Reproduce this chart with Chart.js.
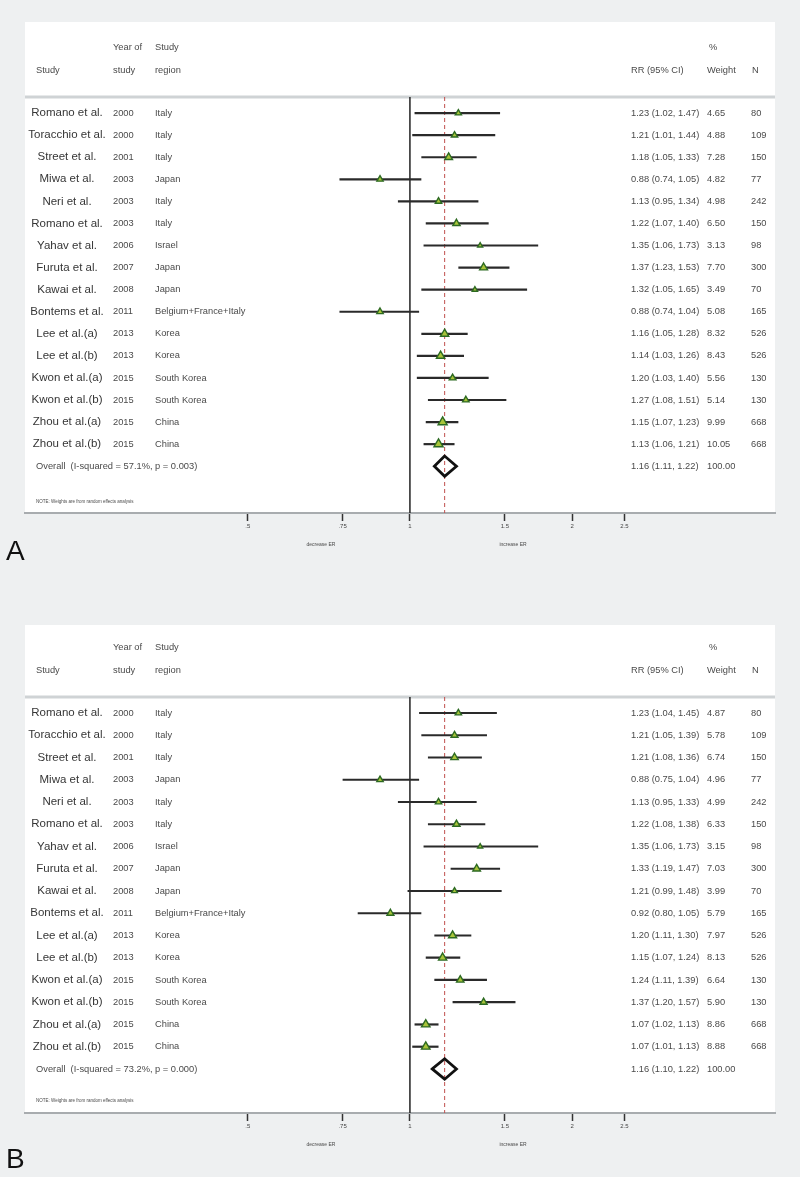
<!DOCTYPE html>
<html>
<head>
<meta charset="utf-8">
<script src="https://cdn.jsdelivr.net/npm/chart.js@4.4.1/dist/chart.umd.min.js"></script>
<style>
  html, body { margin: 0; padding: 0; background: #eef0f1; }
  #wrap { position: relative; width: 800px; height: 1177px; }
  .panel { position: absolute; left: 0; width: 800px; }
</style>
</head>
<body>
<div id="wrap">
  <div class="panel" style="top:0;height:600px"><canvas id="chartA"></canvas></div>
  <div class="panel" style="top:600px;height:577px"><canvas id="chartB"></canvas></div>
</div>
<script>
// studies (same list in both panels)
var studies = ["Romano et al.", "Toracchio et al.", "Street et al.", "Miwa et al.", "Neri et al.", "Romano et al.",
    "Yahav et al.", "Furuta et al.", "Kawai et al.", "Bontems et al.", "Lee et al.(a)", "Lee et al.(b)",
    "Kwon et al.(a)", "Kwon et al.(b)", "Zhou et al.(a)", "Zhou et al.(b)"];
var years = ["2000", "2000", "2001", "2003", "2003", "2003", "2006", "2007", "2008", "2011", "2013", "2013", "2015", "2015", "2015", "2015"];
var regions = ["Italy", "Italy", "Italy", "Japan", "Italy", "Italy", "Israel", "Japan", "Japan", "Belgium+France+Italy",
    "Korea", "Korea", "South Korea", "South Korea", "China", "China"];
var sampleN = [80, 109, 150, 77, 242, 150, 98, 300, 70, 165, 526, 526, 130, 130, 668, 668];

// panel A
var rrA = [1.23, 1.21, 1.18, 0.88, 1.13, 1.22, 1.35, 1.37, 1.32, 0.88, 1.16, 1.14, 1.20, 1.27, 1.15, 1.13];
var lowA = [1.02, 1.01, 1.05, 0.74, 0.95, 1.07, 1.06, 1.23, 1.05, 0.74, 1.05, 1.03, 1.03, 1.08, 1.07, 1.06];
var highA = [1.47, 1.44, 1.33, 1.05, 1.34, 1.40, 1.73, 1.53, 1.65, 1.04, 1.28, 1.26, 1.40, 1.51, 1.23, 1.21];
var weightA = [4.65, 4.88, 7.28, 4.82, 4.98, 6.50, 3.13, 7.70, 3.49, 5.08, 8.32, 8.43, 5.56, 5.14, 9.99, 10.05];
var overallA = [1.16, 1.11, 1.22];
var overallTextA = "Overall  (I-squared = 57.1%, p = 0.003)";

// panel B
var rrB = [1.23, 1.21, 1.21, 0.88, 1.13, 1.22, 1.35, 1.33, 1.21, 0.92, 1.20, 1.15, 1.24, 1.37, 1.07, 1.07];
var lowB = [1.04, 1.05, 1.08, 0.75, 0.95, 1.08, 1.06, 1.19, 0.99, 0.80, 1.11, 1.07, 1.11, 1.20, 1.02, 1.01];
var highB = [1.45, 1.39, 1.36, 1.04, 1.33, 1.38, 1.73, 1.47, 1.48, 1.05, 1.30, 1.24, 1.39, 1.57, 1.13, 1.13];
var weightB = [4.87, 5.78, 6.74, 4.96, 4.99, 6.33, 3.15, 7.03, 3.99, 5.79, 7.97, 8.13, 6.64, 5.90, 8.86, 8.88];
var overallB = [1.16, 1.10, 1.22];
var overallTextB = "Overall  (I-squared = 73.2%, p = 0.000)";

// x axis
var tickValues = [0.5, 0.75, 1, 1.5, 2, 2.5];
var tickLabels = [".5", ".75", "1", "1.5", "2", "2.5"];

var FONT = '"Liberation Sans", Arial, sans-serif';
var SMALL = '9.3px ' + FONT;

function ciText(rr, lo, hi) {
    return rr.toFixed(2) + " (" + lo.toFixed(2) + ", " + hi.toFixed(2) + ")";
}

/**
 * one forest plot panel
 */
function forestChart(canvasId, p) {
    var datasets = [];
    var row = studies.length;

    // confidence interval lines
    for (var i = 0; i < studies.length; i++) {
        datasets.push({
            data: [{x: p.low[i], y: i}, {x: p.high[i], y: i}],
            showLine: true,
            borderColor: '#2a2a2a',
            borderWidth: 2.2,
            pointRadius: 0,
            order: 2
        });
    }
    // point estimates, size by weight
    datasets.push({
        data: p.rr.map(function (v, i) { return {x: v, y: i}; }),
        pointStyle: 'triangle',
        pointRadius: p.weight.map(function (w) { return 1.65 * Math.sqrt(w); }),
        backgroundColor: '#a9c43a',
        borderColor: '#2d6a22',
        borderWidth: 1.4,
        order: 0
    });
    // overall diamond
    var o = p.overall;
    datasets.push({
        data: [{x: o[1], y: row}, {x: o[0], y: row - 0.46}, {x: o[2], y: row}, {x: o[0], y: row + 0.46},
            {x: o[1], y: row}, {x: o[0], y: row - 0.46}],
        showLine: true,
        borderColor: '#111',
        borderWidth: 2.8,
        borderJoinStyle: 'miter',
        pointRadius: 0,
        order: 1
    });

    var decor = {
        id: 'decor',
        beforeDraw: function (chart) {
            var ctx = chart.ctx, area = chart.chartArea;
            ctx.save();
            // white panel
            ctx.fillStyle = '#fff';
            ctx.fillRect(25, p.boxTop, 750, area.bottom - p.boxTop);
            // header separator
            ctx.strokeStyle = '#cfd3d5';
            ctx.lineWidth = 3;
            ctx.beginPath();
            ctx.moveTo(25, area.top);
            ctx.lineTo(775, area.top);
            ctx.stroke();
            ctx.restore();
        },
        beforeDatasetsDraw: function (chart) {
            var ctx = chart.ctx, area = chart.chartArea, x = chart.scales.x;
            ctx.save();
            // line of no effect
            var x1 = x.getPixelForValue(1);
            ctx.strokeStyle = '#222';
            ctx.lineWidth = 1.5;
            ctx.beginPath();
            ctx.moveTo(x1, area.top);
            ctx.lineTo(x1, area.bottom);
            ctx.stroke();
            // overall estimate
            var xo = x.getPixelForValue(p.overall[0]);
            ctx.strokeStyle = '#c0504d';
            ctx.lineWidth = 1;
            ctx.setLineDash([4, 3]);
            ctx.beginPath();
            ctx.moveTo(xo, area.top);
            ctx.lineTo(xo, area.bottom);
            ctx.stroke();
            ctx.restore();
        },
        afterDraw: function (chart) {
            var ctx = chart.ctx, y = chart.scales.y;
            ctx.save();
            ctx.textBaseline = 'middle';

            // header
            ctx.fillStyle = '#4a4a4a';
            ctx.font = SMALL;
            ctx.textAlign = 'left';
            ctx.fillText('Year of', 113, 47);
            ctx.fillText('study', 113, 70);
            ctx.fillText('Study', 155, 47);
            ctx.fillText('region', 155, 70);
            ctx.fillText('Study', 36, 70);
            ctx.fillText('RR (95% CI)', 631, 70);
            ctx.fillText('%', 709, 47);
            ctx.fillText('Weight', 707, 70);
            ctx.fillText('N', 752, 70);

            // study rows
            for (var i = 0; i < studies.length; i++) {
                var py = y.getPixelForValue(i);
                ctx.fillStyle = '#363636';
                ctx.font = '11.5px ' + FONT;
                ctx.textAlign = 'center';
                ctx.fillText(studies[i], 67, py);
                ctx.fillStyle = '#4a4a4a';
                ctx.font = SMALL;
                ctx.textAlign = 'left';
                ctx.fillText(years[i], 113, py);
                ctx.fillText(regions[i], 155, py);
                ctx.fillText(ciText(p.rr[i], p.low[i], p.high[i]), 631, py);
                ctx.fillText(p.weight[i].toFixed(2), 707, py);
                ctx.fillText(String(sampleN[i]), 751, py);
            }

            // overall row
            var oy = y.getPixelForValue(studies.length);
            ctx.fillText(p.overallText, 36, oy);
            ctx.fillText(ciText(p.overall[0], p.overall[1], p.overall[2]), 631, oy);
            ctx.fillText('100.00', 707, oy);

            ctx.font = '4.5px ' + FONT;
            ctx.fillText('NOTE: Weights are from random effects analysis', 36, p.noteY);

            ctx.font = '5px ' + FONT;
            ctx.textAlign = 'center';
            ctx.fillText('decrease ER', 321, 545);
            ctx.fillText('increase ER', 513, 545);

            // panel letter
            ctx.fillStyle = '#111';
            ctx.font = '28px ' + FONT;
            ctx.textAlign = 'left';
            ctx.textBaseline = 'alphabetic';
            ctx.fillText(p.letter, 6, p.letterY);
            ctx.restore();
        }
    };

    return new Chart(document.getElementById(canvasId), {
        type: 'scatter',
        data: {datasets: datasets},
        options: {
            responsive: true,
            maintainAspectRatio: false,
            animation: false,
            layout: {padding: {left: 25, right: 25, top: 97, bottom: p.bottomPad}},
            plugins: {legend: {display: false}, tooltip: {enabled: false}},
            scales: {
                x: {
                    type: 'logarithmic',
                    min: 0.193,
                    max: 4.76,
                    afterBuildTicks: function (axis) {
                        axis.ticks = tickValues.map(function (v) { return {value: v}; });
                    },
                    afterFit: function (axis) { axis.height = 30; },
                    ticks: {
                        autoSkip: false,
                        maxRotation: 0,
                        padding: 2,
                        color: '#444',
                        font: {size: 6, family: FONT},
                        callback: function (v, idx) { return tickLabels[idx]; }
                    },
                    grid: {drawOnChartArea: false, drawTicks: true, tickLength: 8, tickColor: '#333', tickWidth: 1.5},
                    border: {color: '#a8acaf', width: 2}
                },
                y: {type: 'linear', reverse: true, min: p.yMin, max: p.yMax, display: false}
            }
        },
        plugins: [decor]
    });
}

forestChart('chartA', {
    rr: rrA, low: lowA, high: highA, weight: weightA, overall: overallA, overallText: overallTextA,
    letter: 'A', letterY: 560, boxTop: 22, noteY: 502, bottomPad: 57, yMin: -0.73, yMax: 18.12
});
forestChart('chartB', {
    rr: rrB, low: lowB, high: highB, weight: weightB, overall: overallB, overallText: overallTextB,
    letter: 'B', letterY: 568, boxTop: 25, noteY: 501, bottomPad: 34, yMin: -0.72, yMax: 17.98
});
</script>
</body>
</html>
